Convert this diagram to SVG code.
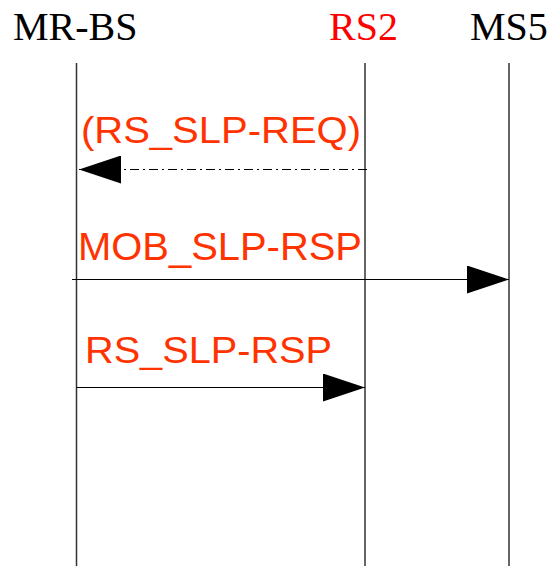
<svg xmlns="http://www.w3.org/2000/svg" width="550" height="566" viewBox="0 0 550 566">
<style>
.hdr{font-family:"Liberation Serif","Times New Roman",serif;font-size:40px;fill:#000}
.lbl{font-family:"Liberation Sans",Arial,sans-serif;font-size:37px;fill:#ff3300}
.life{stroke:#333;stroke-width:1.5;fill:none}
.msg{stroke:#000;stroke-width:1.2;fill:none}
</style>
<defs>
<marker id="ah" markerUnits="userSpaceOnUse" markerWidth="42" markerHeight="28" refX="42" refY="14" orient="auto">
<polygon points="0,0 42,14 0,28" fill="#000"/>
</marker>
</defs>
<g id="MR-BS">
<text class="hdr" x="13" y="39.5">MR-BS</text>
<line class="life" x1="76.5" y1="63" x2="76.5" y2="566"/>
</g>
<g id="RS2">
<text class="hdr" x="329" y="39.5" style="fill:#ff0000">RS2</text>
<line class="life" x1="365" y1="63" x2="365" y2="566"/>
</g>
<g id="MS5">
<text class="hdr" x="470" y="39.5">MS5</text>
<line class="life" x1="509" y1="63" x2="509" y2="566"/>
</g>
<g id="connectors">
<line class="msg" x1="367" y1="169.5" x2="79" y2="169.5" stroke-dasharray="9,4,2,4" marker-end="url(#ah)"/>
<text class="lbl" x="81" y="142.5" textLength="280" lengthAdjust="spacingAndGlyphs">(RS_SLP-REQ)</text>
<line class="msg" x1="72" y1="279.5" x2="509" y2="279.5" marker-end="url(#ah)"/>
<text class="lbl" x="78" y="259.5" style="font-size:38px" textLength="284" lengthAdjust="spacingAndGlyphs">MOB_SLP-RSP</text>
<line class="msg" x1="76.5" y1="387.5" x2="365" y2="387.5" marker-end="url(#ah)"/>
<text class="lbl" x="85" y="362.5" textLength="247" lengthAdjust="spacingAndGlyphs">RS_SLP-RSP</text>
</g>
</svg>
